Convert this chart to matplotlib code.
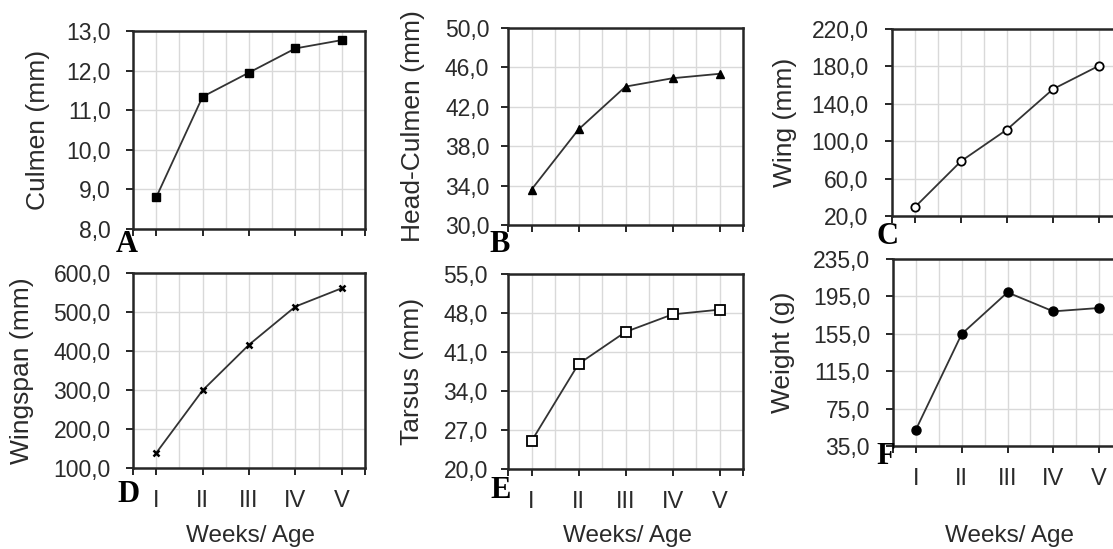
import matplotlib
matplotlib.use('Agg')
import matplotlib.pyplot as plt
import numpy as np
from matplotlib.ticker import FuncFormatter, FixedLocator

# data (weeks I..V)
weeks = ['I', 'II', 'III', 'IV', 'V']
culmen = [8.8, 11.34, 11.95, 12.56, 12.77]
head_culmen = [33.6, 39.7, 44.05, 44.9, 45.35]
wing = [29.6, 78.6, 112.5, 155.7, 180.7]
wingspan = [138.5, 299.0, 416.0, 514.0, 561.0]
tarsus = [25.0, 38.85, 44.6, 47.75, 48.6]
weight = [52.5, 154.8, 199.3, 179.0, 182.6]

labels = ['Culmen (mm)', 'Head-Culmen (mm)', 'Wing (mm)',
          'Wingspan (mm)', 'Tarsus (mm)', 'Weight (g)']
letters = ['A', 'B', 'C', 'D', 'E', 'F']
yranges = [(8, 13, 1), (30, 50, 4), (20, 220, 40),
           (100, 600, 100), (20, 55, 7), (35, 235, 40)]

W, H = 1113, 549
# pixel boxes: left, right, top, bottom
boxes = [(133, 365, 31, 229), (508, 743, 28, 225), (892, 1122, 29, 216),
         (133, 365, 273, 468), (508, 743, 274, 469), (893, 1122, 259, 446)]
ylabel_x = [-0.41, -0.404, -0.465, -0.478, -0.41, -0.48]
ytick_pad = [11, 8.5, 12, 11, 9.5, 11.5]
letter_pos = [(127, 245), (500, 244), (887, 236), (128, 494), (501, 491), (886, 456)]
styles = [dict(marker='s', ms=6, mfc='black', mec='black'),
          dict(marker='^', ms=5.5, mfc='black', mec='black'),
          dict(marker='o', ms=6, mfc='white', mec='black', mew=1.3),
          dict(marker='x', ms=5, mec='black', mew=1.8),
          dict(marker='s', ms=7.5, mfc='white', mec='black', mew=1.3),
          dict(marker='o', ms=6.5, mfc='black', mec='black')]
series = [culmen, head_culmen, wing, wingspan, tarsus, weight]

plt.rcParams['font.family'] = ['Liberation Sans', 'DejaVu Sans']
fig = plt.figure(figsize=(W / 100, H / 100), dpi=100)

x = np.arange(1, len(weeks) + 1)
comma_fmt = FuncFormatter(lambda v, p: f'{v:.1f}'.replace('.', ','))
txt = '#2a2a2a'

for i in range(6):
    l, r, t, b = boxes[i]
    ax = fig.add_axes([l / W, 1 - b / H, (r - l) / W, (b - t) / H])
    ax.plot(x, series[i], color='#333333', lw=1.3, zorder=3, **styles[i])

    lo, hi, step = yranges[i]
    ax.set_ylim(lo, hi)
    ax.set_yticks(np.arange(lo, hi + step / 2, step))
    ax.yaxis.set_major_formatter(comma_fmt)
    ax.set_xlim(0.5, len(weeks) + 0.5)
    ax.xaxis.set_major_locator(FixedLocator([0.5] + list(x) + [len(weeks) + 0.5]))
    ax.xaxis.set_minor_locator(FixedLocator(list(x[:-1] + 0.5)))
    if i >= 3:
        ax.set_xticklabels([''] + weeks + [''])
    else:
        ax.set_xticklabels([''] * (len(weeks) + 2))

    ax.grid(True, which='major', axis='y', color='#d9d9d9', lw=1)
    ax.grid(True, which='both', axis='x', color='#d9d9d9', lw=1)
    ax.set_axisbelow(True)
    for s in ax.spines.values():
        s.set_linewidth(1.8)
        s.set_color('#262626')
    ax.tick_params(axis='y', direction='out', length=5, width=1.4, color='#262626',
                   labelsize=16.5, labelcolor=txt, pad=ytick_pad[i])
    ax.tick_params(axis='x', which='major', direction='out', length=5, width=1.4,
                   color='#262626', labelsize=17, labelcolor=txt, pad=10.5)
    ax.tick_params(axis='x', which='minor', length=0)

    ax.text(ylabel_x[i], 0.5, labels[i], transform=ax.transAxes, rotation=90,
            ha='center', va='center', fontsize=19, color=txt)
    if i >= 3:
        cx = (l + r) / 2 + 2
        fig.text(cx / W, 1 - 536 / H, 'Weeks/ Age', ha='center', va='center',
                 fontsize=17.5, color=txt)

    lx, ly = letter_pos[i]
    fig.text(lx / W, 1 - ly / H, letters[i], ha='center', va='center',
             fontsize=22, fontweight='bold', family='Liberation Serif', color='black')

fig.savefig('out.png', dpi=100)
